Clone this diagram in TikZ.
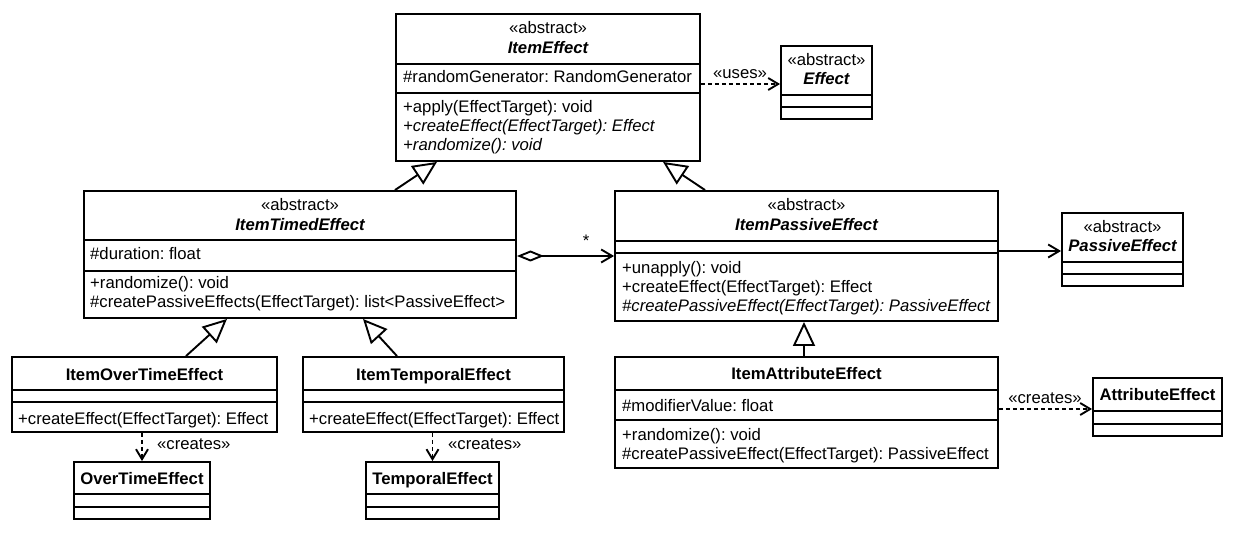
\documentclass[tikz,border=0pt]{standalone}
\usepackage{fontspec}
\setmainfont{Liberation Sans}
\usetikzlibrary{arrows.meta,fit}

\begin{document}
\frenchspacing
\begin{tikzpicture}[x=1pt,y=-1pt,
  font=\fontsize{16.7pt}{19pt}\selectfont,
  cls/.style={draw, line width=1.9pt, inner sep=0pt, fill=white},
  div/.style={line width=1.9pt},
  txt/.style={inner sep=0pt, anchor=base west},
  ctr/.style={inner sep=0pt, anchor=base},
  abs/.style={ctr, font=\fontsize{16.7pt}{19pt}\selectfont\bfseries\itshape},
  con/.style={ctr, font=\fontsize{16.7pt}{19pt}\selectfont\bfseries},
  gen/.style={line width=1.9pt, -{Triangle[open, length=24pt, width=22pt]}},
  dep/.style={line width=1.9pt, dash pattern=on 4pt off 3pt, -{Straight Barb[length=10pt, width=12pt]}},
  assoc/.style={line width=1.9pt, -{Straight Barb[length=11pt, width=13pt]}},
  agg/.style={line width=1.9pt, {Diamond[open, length=27pt, width=11pt]}-{Straight Barb[length=11pt, width=13pt]}}
]
\fill[white] (0,0) rectangle (1248,545);
\useasboundingbox (0,0) rectangle (1248,545);

% ---- ItemEffect
\node[cls, fit={(396,14) (700,161)}] (ie) {};
\draw[div] (ie.west |- 0,64) -- (ie.east |- 0,64);
\draw[div] (ie.west |- 0,93) -- (ie.east |- 0,93);
\node[ctr] at (ie |- 0,34) {«abstract»};
\node[abs] at (ie |- 0,54) {ItemEffect};
\node[txt] at (403,83) {\#randomGenerator: RandomGenerator};
\node[txt] at (403,113) {+apply(EffectTarget): void};
\node[txt] at (403,132) {\itshape +createEffect(EffectTarget): Effect};
\node[txt] at (403,151) {\itshape +randomize(): void};

% ---- Effect
\node[cls, fit={(781,46) (872,119)}] (ef) {};
\draw[div] (ef.west |- 0,95) -- (ef.east |- 0,95);
\draw[div] (ef.west |- 0,107) -- (ef.east |- 0,107);
\node[ctr] at (ef |- 0,66) {«abstract»};
\node[abs] at (ef |- 0,85) {Effect};

% ---- ItemTimedEffect
\node[cls, fit={(84,191) (516,318)}] (ite) {};
\draw[div] (ite.west |- 0,240) -- (ite.east |- 0,240);
\draw[div] (ite.west |- 0,271) -- (ite.east |- 0,271);
\node[ctr] at (ite |- 0,211) {«abstract»};
\node[abs] at (ite |- 0,231) {ItemTimedEffect};
\node[txt] at (90,260) {\#duration: float};
\node[txt] at (90,289) {+randomize(): void};
\node[txt] at (90,308) {\#createPassiveEffects(EffectTarget): list<PassiveEffect>};

% ---- ItemPassiveEffect
\node[cls, fit={(615,191) (998,321)}] (ipe) {};
\draw[div] (ipe.west |- 0,241) -- (ipe.east |- 0,241);
\draw[div] (ipe.west |- 0,253) -- (ipe.east |- 0,253);
\node[ctr] at (ipe |- 0,211) {«abstract»};
\node[abs] at (ipe |- 0,231) {ItemPassiveEffect};
\node[txt] at (622,274) {+unapply(): void};
\node[txt] at (622,293) {+createEffect(EffectTarget): Effect};
\node[txt] at (622,312) {\itshape \#createPassiveEffect(EffectTarget): PassiveEffect};

% ---- PassiveEffect
\node[cls, fit={(1062,213) (1183,286)}] (pe) {};
\draw[div] (pe.west |- 0,262) -- (pe.east |- 0,262);
\draw[div] (pe.west |- 0,274) -- (pe.east |- 0,274);
\node[ctr] at (pe |- 0,233) {«abstract»};
\node[abs] at (pe |- 0,252) {PassiveEffect};

% ---- ItemOverTimeEffect
\node[cls, fit={(12,357) (277,432)}] (iote) {};
\draw[div] (iote.west |- 0,390) -- (iote.east |- 0,390);
\draw[div] (iote.west |- 0,402) -- (iote.east |- 0,402);
\node[con] at (iote |- 0,381) {ItemOverTimeEffect};
\node[txt] at (18,424) {+createEffect(EffectTarget): Effect};

% ---- ItemTemporalEffect
\node[cls, fit={(303,357) (564,432)}] (itpe) {};
\draw[div] (itpe.west |- 0,390) -- (itpe.east |- 0,390);
\draw[div] (itpe.west |- 0,402) -- (itpe.east |- 0,402);
\node[con] at (itpe |- 0,381) {ItemTemporalEffect};
\node[txt] at (309,424) {+createEffect(EffectTarget): Effect};

% ---- OverTimeEffect
\node[cls, fit={(74,462) (210,519)}] (ote) {};
\draw[div] (ote.west |- 0,494) -- (ote.east |- 0,494);
\draw[div] (ote.west |- 0,507) -- (ote.east |- 0,507);
\node[con] at (ote |- 0,484) {OverTimeEffect};

% ---- TemporalEffect
\node[cls, fit={(366,462) (499,519)}] (tpe) {};
\draw[div] (tpe.west |- 0,494) -- (tpe.east |- 0,494);
\draw[div] (tpe.west |- 0,507) -- (tpe.east |- 0,507);
\node[con] at (tpe |- 0,484) {TemporalEffect};

% ---- ItemAttributeEffect
\node[cls, fit={(615,357) (998,468)}] (iae) {};
\draw[div] (iae.west |- 0,390) -- (iae.east |- 0,390);
\draw[div] (iae.west |- 0,420) -- (iae.east |- 0,420);
\node[con] at (iae |- 0,380) {ItemAttributeEffect};
\node[txt] at (622,411) {\#modifierValue: float};
\node[txt] at (622,440) {+randomize(): void};
\node[txt] at (622,459) {\#createPassiveEffect(EffectTarget): PassiveEffect};

% ---- AttributeEffect
\node[cls, fit={(1093,378) (1222,436)}] (ae) {};
\draw[div] (ae.west |- 0,411) -- (ae.east |- 0,411);
\draw[div] (ae.west |- 0,424) -- (ae.east |- 0,424);
\node[con] at (ae |- 0,400) {AttributeEffect};

% ---- generalizations
\draw[gen] (395,0 |- ite.north) -- (437,0 |- ie.south);
\draw[gen] (705,0 |- ipe.north) -- (663,0 |- ie.south);
\draw[gen] (186,0 |- iote.north) -- (227,0 |- ite.south);
\draw[gen] (397,0 |- itpe.north) -- (363,0 |- ite.south);
\draw[gen] (804,0 |- iae.north) -- (804,0 |- ipe.south);

% ---- dependencies
\draw[dep] (ie.east |- 0,84) -- (ef.west |- 0,84);
\node[ctr] (uses) at (740,79) {«uses»};
\draw[dep] (iote.south -| ote.north) -- (ote.north);
\node[txt] (cr1) at (157,449) {«creates»};
\draw[dep] (itpe.south -| tpe.north) -- (tpe.north);
\node[txt] (cr2) at (448,449) {«creates»};
\draw[dep] (iae.east |- 0,409) -- (ae.west |- 0,409);
\node[ctr] (cr3) at (1045,403) {«creates»};

% ---- associations
\draw[agg] (ite.east |- 0,256) -- (ipe.west |- 0,256);
\node[ctr] (mult) at (586,247) {*};
\draw[assoc] (ipe.east |- 0,251) -- (pe.west |- 0,251);
\end{tikzpicture}
\end{document}
